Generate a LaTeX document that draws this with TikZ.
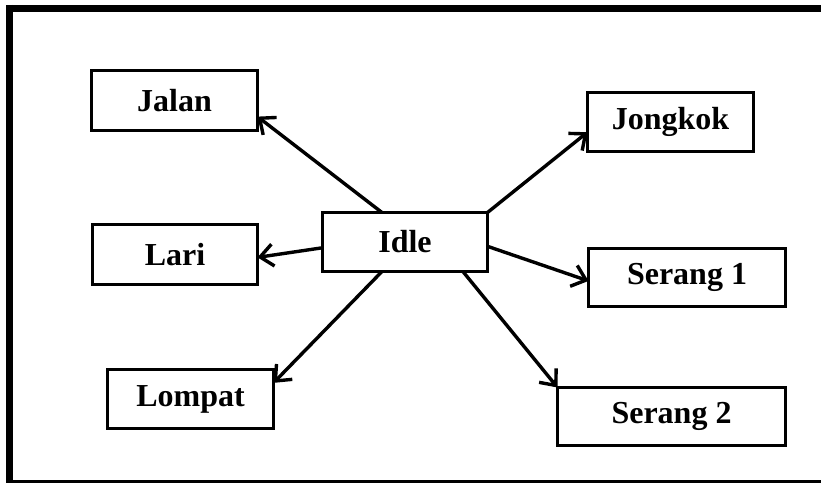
\documentclass[tikz,border=0pt]{standalone}
\usepackage{fontspec}
\setmainfont{Liberation Serif}
\usetikzlibrary{arrows.meta}
\begin{document}
\begin{tikzpicture}[x=1pt,y=-1pt,
  state/.style={draw, line width=3pt, inner sep=0pt, outer sep=0pt,
    font=\fontsize{32}{32}\selectfont\bfseries},
  move/.style={line width=3.4pt,
    -{Straight Barb[length=13pt,width=22pt,line width=3.4pt]}}]
  \useasboundingbox (0,0) rectangle (821,484);
  % outer frame (open on the right)
  \draw[line width=7pt] (6,8.5) -- (825,8.5);
  \draw[line width=7pt] (9.5,5) -- (9.5,483);
  \draw[line width=3.5pt] (6,481.5) -- (825,481.5);

  % states
  \node[state, minimum width=165pt, minimum height=59pt] (idle)    at (405,242)   {Idle};
  \node[state, minimum width=166pt, minimum height=60pt] (jalan)   at (174.5,100.5) {Jalan};
  \node[state, minimum width=165pt, minimum height=60pt] (lari)    at (175,254.5) {Lari};
  \node[state, minimum width=166pt, minimum height=59pt] (lompat)  at (190.5,399) {Lompat};
  \node[state, minimum width=166pt, minimum height=59pt] (jongkok) at (670.5,122) {Jongkok};
  \node[state, minimum width=197pt, minimum height=58pt] (serang1) at (687,277.5) {Serang 1};
  \node[state, minimum width=228pt, minimum height=58pt] (serang2) at (671.5,416.5) {Serang 2};

  % transitions out of Idle
  \draw[move] (idle.128)        -- (jalan.-11);
  \draw[move] (idle.north east) -- (jongkok.187);
  \draw[move] (idle.184)        -- (lari.-2.4);
  \draw[move] (idle.-3.4)       -- (serang1.182.5);
  \draw[move] (idle.232)        -- (lompat.11);
  \draw[move] (idle.-27)        -- (serang2.north west);
\end{tikzpicture}
\end{document}
